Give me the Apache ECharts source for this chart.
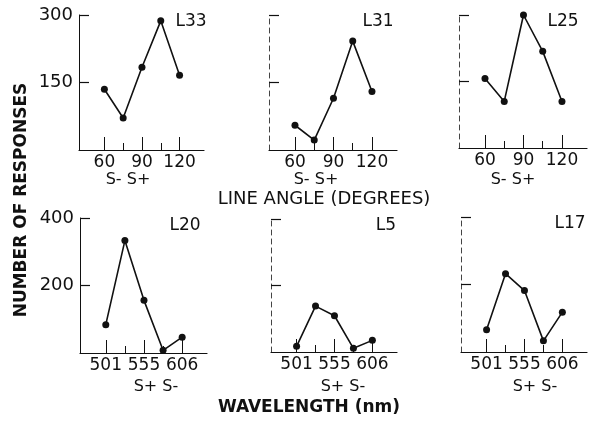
<!DOCTYPE html>
<html>
<head>
<meta charset="utf-8">
<script src="https://cdn.jsdelivr.net/npm/echarts@6/dist/echarts.min.js"></script>
<style>html,body{margin:0;padding:0;background:#fff}#c{width:601px;height:422px}</style>
</head>
<body>
<div id="c"></div>
<script>
// ---- data ----
const angles = [60, 75, 90, 105, 120];
const angleTickLabels = ['60', '', '90', '', '120'];
const wavelengths = [501, 528, 555, 580, 606];
const waveTickLabels = ['501', '', '555', '', '606'];
const topYTicks = [150, 300];
const bottomYTicks = [200, 400];
const L33 = [135, 71, 184, 287, 166];
const L31 = [55, 22, 115, 242, 130];
const L25 = [157, 105, 300, 218, 105];
const L20 = [84, 333, 156, 8, 47];
const L5 = [17, 138, 109, 11, 35];
const L17 = [66, 232, 182, 33, 118];
const panelNames = ['L33', 'L31', 'L25', 'L20', 'L5', 'L17'];
const panelValues = [L33, L31, L25, L20, L5, L17];

// ---- layout ----
const FONT = 'DejaVu Sans';
const grids = [
  {left: 79, top: 15, width: 125, height: 135},
  {left: 269, top: 15, width: 128, height: 135},
  {left: 459, top: 15, width: 128, height: 133},
  {left: 80, top: 218, width: 127, height: 135},
  {left: 271, top: 219, width: 126, height: 133},
  {left: 461, top: 217, width: 126, height: 135}
];
const xAxes = [], yAxes = [], series = [];
panelValues.forEach((vals, i) => {
  const isTop = i < 3;
  const labels = isTop ? angleTickLabels : waveTickLabels;
  const yTicks = isTop ? topYTicks : bottomYTicks;
  const solidY = (i === 0 || i === 3);
  xAxes.push({
    type: 'value', gridIndex: i, min: -1.35, max: 5.3, position: 'bottom',
    axisLine: {show: true, onZero: false, lineStyle: {color: '#111', width: 1.2}},
    axisTick: {show: true, inside: true, length: 13, customValues: [0, 2, 4], lineStyle: {color: '#111', width: 1}},
    axisLabel: {show: true, customValues: [0, 2, 4], formatter: v => labels[Math.round(v)],
      color: '#111', fontFamily: FONT, fontSize: 17, margin: 4},
    splitLine: {show: false}
  });
  xAxes.push({
    type: 'value', gridIndex: i, min: -1.35, max: 5.3, position: 'bottom',
    axisLine: {show: false, onZero: false},
    axisTick: {show: true, inside: true, length: 7, customValues: [1, 3], lineStyle: {color: '#111', width: 1}},
    axisLabel: {show: false},
    splitLine: {show: false}
  });
  yAxes.push({
    type: 'value', gridIndex: i, min: 0, max: yTicks[1],
    axisLine: {show: true, onZero: false, lineStyle: {color: solidY ? '#111' : '#444', width: 1, type: solidY ? 'solid' : [5, 4]}},
    axisTick: {show: true, inside: true, length: 10, customValues: yTicks, lineStyle: {color: '#111', width: 1.2}},
    axisLabel: {show: solidY, customValues: yTicks, color: '#111', fontFamily: FONT, fontSize: 18, margin: 6},
    splitLine: {show: false}
  });
  series.push({
    type: 'line', xAxisIndex: 2 * i, yAxisIndex: i,
    data: vals.map((v, k) => [k, v]),
    symbol: 'circle', symbolSize: 7, clip: false,
    lineStyle: {color: '#111', width: 1.6},
    itemStyle: {color: '#111'},
    animation: false
  });
});

const txt = (x, y, s, size, weight) => ({
  type: 'text', x: x, y: y,
  style: {text: s, fill: '#111', font: (weight || 'normal') + ' ' + size + 'px "' + FONT + '"',
    align: 'center', verticalAlign: 'middle'}
});

const graphics = [
  txt(191, 22, 'L33', 17), txt(378, 22, 'L31', 17), txt(563, 22, 'L25', 17),
  txt(185, 226, 'L20', 17), txt(386, 226, 'L5', 17), txt(570, 224, 'L17', 17),
  txt(128, 180, 'S- S+', 16), txt(316, 180, 'S- S+', 16), txt(513, 180, 'S- S+', 16),
  txt(156, 387, 'S+ S-', 16), txt(343, 387, 'S+ S-', 16), txt(535, 387, 'S+ S-', 16),
  txt(324, 199, 'LINE ANGLE (DEGREES)', 18),
  txt(309, 408, 'WAVELENGTH (nm)', 17, 'bold'),
  {type: 'text', x: 22, y: 200, rotation: Math.PI / 2,
   style: {text: 'NUMBER OF RESPONSES', fill: '#111', font: 'bold 17px "' + FONT + '"', align: 'center', verticalAlign: 'middle'}}
];

const chart = echarts.init(document.getElementById('c'), null, {renderer: 'canvas'});
chart.setOption({
  backgroundColor: '#fff',
  animation: false,
  grid: grids,
  xAxis: xAxes,
  yAxis: yAxes,
  series: series,
  graphic: graphics
});
</script>
</body>
</html>
